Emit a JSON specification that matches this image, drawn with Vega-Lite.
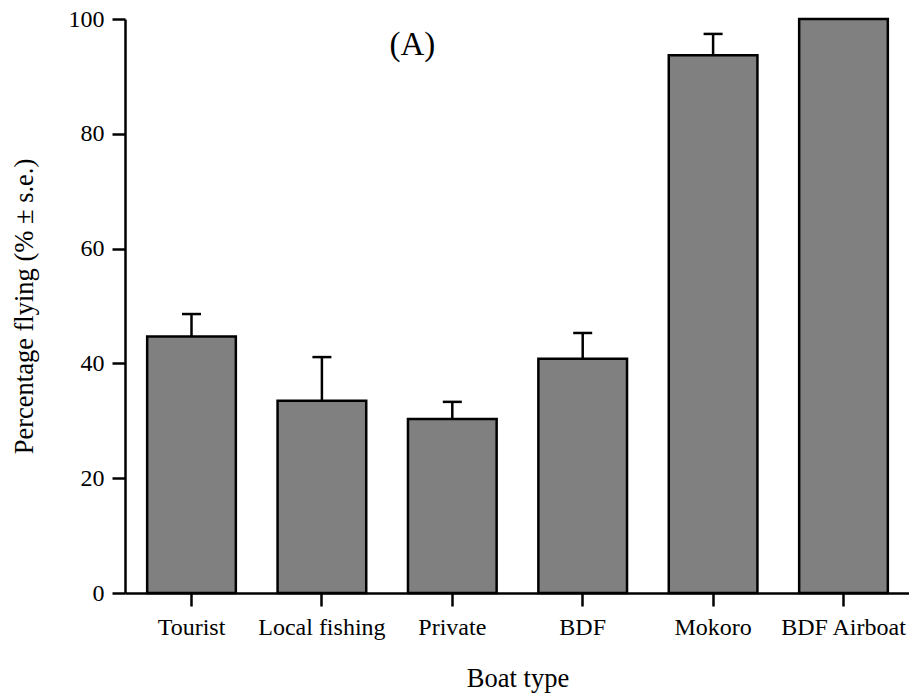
{
  "$schema": "https://vega.github.io/schema/vega-lite/v6.json",
  "autosize": {"type": "none"},
  "padding": {"left": 125, "top": 19, "right": 0, "bottom": 105},
  "width": 785,
  "height": 574,
  "background": "white",
  "config": {
    "view": {"stroke": null},
    "font": "Times New Roman, Liberation Serif, serif",
    "axis": {
      "domainColor": "black",
      "domainWidth": 2.5,
      "tickColor": "black",
      "tickWidth": 2.5,
      "tickSize": 13,
      "labelColor": "black",
      "titleColor": "black",
      "labelFont": "Times New Roman, Liberation Serif, serif",
      "titleFont": "Times New Roman, Liberation Serif, serif",
      "labelFontSize": 24,
      "titleFontSize": 26.5,
      "titleFontWeight": "normal",
      "grid": false
    }
  },
  "data": {
    "values": [
      {"boat": "Tourist", "pct": 44.7, "upper": 48.6},
      {"boat": "Local fishing", "pct": 33.5, "upper": 41.1},
      {"boat": "Private", "pct": 30.3, "upper": 33.3},
      {"boat": "BDF", "pct": 40.8, "upper": 45.3},
      {"boat": "Mokoro", "pct": 93.7, "upper": 97.4},
      {"boat": "BDF Airboat", "pct": 100, "upper": null}
    ]
  },
  "encoding": {
    "x": {
      "field": "boat",
      "type": "nominal",
      "sort": null,
      "scale": {"paddingInner": 0.32, "paddingOuter": 0.17},
      "axis": {
        "title": "Boat type",
        "labelAngle": 0,
        "labelPadding": 9,
        "titlePadding": 26,
        "labelFlush": false
      }
    }
  },
  "layer": [
    {
      "transform": [{"filter": "datum.upper != null"}],
      "mark": {"type": "rule", "color": "black", "strokeWidth": 2.5},
      "encoding": {
        "y": {"field": "pct", "type": "quantitative"},
        "y2": {"field": "upper"}
      }
    },
    {
      "transform": [{"filter": "datum.upper != null"}],
      "mark": {"type": "tick", "color": "black", "size": 19, "thickness": 2.5, "opacity": 1},
      "encoding": {
        "y": {"field": "upper", "type": "quantitative"}
      }
    },
    {
      "mark": {"type": "bar", "fill": "#808080", "stroke": "black", "strokeWidth": 2.5},
      "encoding": {
        "y": {
          "field": "pct",
          "type": "quantitative",
          "scale": {"domain": [0, 100], "nice": false, "zero": true},
          "axis": {
            "title": "Percentage flying (% ± s.e.)",
            "values": [0, 20, 40, 60, 80, 100],
            "labelPadding": 8,
            "titlePadding": 30
          }
        }
      }
    },
    {
      "data": {"values": [{"label": "(A)"}]},
      "mark": {"type": "text", "fontSize": 33, "font": "Times New Roman, Liberation Serif, serif", "color": "black", "dx": -40, "baseline": "middle"},
      "encoding": {
        "x": {"datum": "Private"},
        "y": {"datum": 95.5, "type": "quantitative"},
        "text": {"field": "label"}
      }
    }
  ]
}
